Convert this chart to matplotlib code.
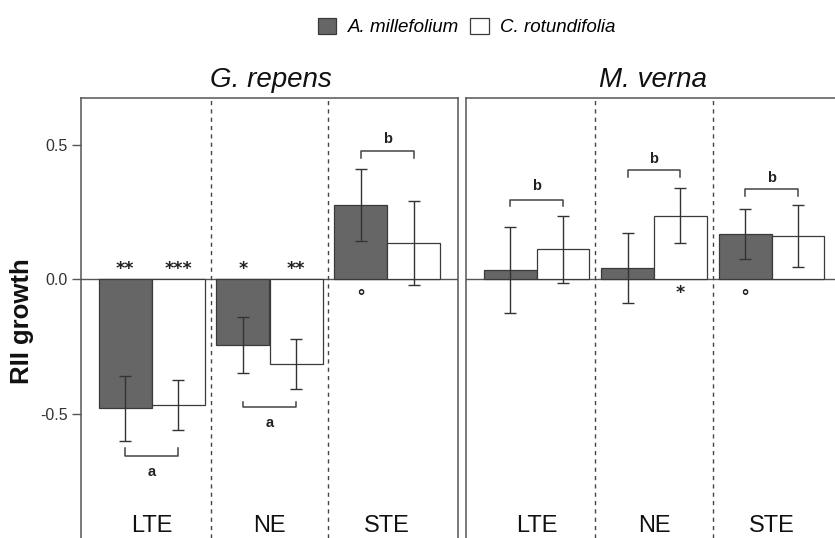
import matplotlib
matplotlib.use("Agg")
import matplotlib.pyplot as plt
from matplotlib.patches import Patch
import numpy as np

plt.rcParams['font.family'] = ['Liberation Sans', 'DejaVu Sans']

# ---------------- data ----------------
categories = ["LTE", "NE", "STE"]
species = ["A. millefolium", "C. rotundifolia"]
panels = ["G. repens", "M. verna"]

# G. repens
grep_mill = [-0.48, -0.245, 0.277]
grep_mill_err = [0.12, 0.103, 0.133]
grep_rot = [-0.467, -0.316, 0.134]
grep_rot_err = [0.094, 0.093, 0.157]

# M. verna
mver_mill = [0.034, 0.041, 0.170]
mver_mill_err = [0.160, 0.130, 0.093]
mver_rot = [0.111, 0.237, 0.160]
mver_rot_err = [0.124, 0.101, 0.115]

# significance marks per bar
grep_mill_sig = ["**", "*", "°"]
grep_rot_sig = ["***", "**", ""]
mver_mill_sig = ["", "", "°"]
mver_rot_sig = ["", "*", ""]

# group letters
grep_letters = ["a", "a", "b"]
mver_letters = ["b", "b", "b"]

# ---------------- layout ----------------
W, H = 835, 538
fig = plt.figure(figsize=(W / 100, H / 100), dpi=100)

ylo, yhi = -0.962, 0.675
top_frac = 1 - 97.7 / H
axL = fig.add_axes([81 / W, 0, 377 / W, top_frac])
axR = fig.add_axes([466 / W, 0, 376 / W, top_frac])

DARK = '#666666'
EDGE = '#3a3a3a'
FRAME = '#555555'
bw = 0.45
x = np.arange(1, len(categories) + 1)


def draw_panel(ax, mill, mill_err, rot, rot_err, msig, rsig, letters,
               bracket_y, tick_dir, letter_y):
    ax.set_xlim(0.4, 3.6)
    ax.set_ylim(ylo, yhi)
    for s in ['top', 'left', 'right']:
        ax.spines[s].set_color(FRAME)
        ax.spines[s].set_linewidth(1.1)
    ax.spines['bottom'].set_visible(False)
    ax.set_xticks([])
    ax.axhline(0, color=FRAME, lw=1.0, zorder=1)
    for d in [1.5, 2.5]:
        ax.axvline(d, color='#444444', lw=1.0, ls=(0, (3, 3)), zorder=1)
    xm = x - bw / 2
    xr = x + bw / 2
    ax.bar(xm, mill, bw, color=DARK, edgecolor=EDGE, lw=0.9, zorder=2)
    ax.bar(xr, rot, bw, color='white', edgecolor=EDGE, lw=0.9, zorder=2)
    ax.errorbar(xm, mill, yerr=mill_err, fmt='none', ecolor='#333333',
                elinewidth=1.0, capsize=4.5, capthick=1.0, zorder=3)
    ax.errorbar(xr, rot, yerr=rot_err, fmt='none', ecolor='#333333',
                elinewidth=1.0, capsize=4.5, capthick=1.0, zorder=3)
    # significance marks
    for xs, vals, sigs in [(xm, mill, msig), (xr, rot, rsig)]:
        for xi, v, s in zip(xs, vals, sigs):
            if not s:
                continue
            if s == "°":
                ax.text(xi, -0.067, s, ha='center', va='center',
                        fontsize=13, fontweight='bold', color='#222222')
            elif v < 0:
                ax.text(xi, 0.005, s, ha='center', va='bottom',
                        fontsize=12.5, fontweight='bold', color='#222222',
                        family='DejaVu Sans')
            else:
                ax.text(xi, -0.085, s, ha='center', va='bottom',
                        fontsize=12.5, fontweight='bold', color='#222222',
                        family='DejaVu Sans')
    # brackets with letters
    for i, (by, td, ly, lt) in enumerate(zip(bracket_y, tick_dir, letter_y, letters)):
        x0, x1 = xm[i], xr[i]
        ax.plot([x0, x0, x1, x1], [by + td, by, by, by + td],
                color='#444444', lw=1.1, zorder=3)
        ax.text((x0 + x1) / 2, ly, lt, ha='center', va='center',
                fontsize=10.5, fontweight='bold', color='#222222')
    for xi, c in zip(x, categories):
        ax.text(xi, -0.94, c, ha='center', va='baseline', fontsize=17,
                color='#111111')


draw_panel(axL, grep_mill, grep_mill_err, grep_rot, grep_rot_err,
           grep_mill_sig, grep_rot_sig, grep_letters,
           [-0.656, -0.476, 0.477], [0.028, 0.021, -0.027],
           [-0.715, -0.535, 0.52])
draw_panel(axR, mver_mill, mver_mill_err, mver_rot, mver_rot_err,
           mver_mill_sig, mver_rot_sig, mver_letters,
           [0.295, 0.406, 0.336], [-0.023, -0.027, -0.026],
           [0.347, 0.447, 0.375])

axL.set_yticks([-0.5, 0.0, 0.5])
axL.set_yticklabels(["-0.5", "0.0", "0.5"], fontsize=11.5, color='#333333')
axL.tick_params(axis='y', length=6.5, color=FRAME, width=1.0, pad=3)
axR.set_yticks([])

fig.text(271 / W, 1 - 86.7 / H, panels[0], ha='center', va='baseline',
         fontsize=20, fontstyle='italic', color='#111111')
fig.text(653 / W, 1 - 86.7 / H, panels[1], ha='center', va='baseline',
         fontsize=20, fontstyle='italic', color='#111111')

fig.text(22 / W, 1 - 321 / H, "RII growth", rotation=90, ha='center',
         va='center', fontsize=18.5, fontweight='bold', color='#111111')

handles = [Patch(facecolor=DARK, edgecolor=EDGE, lw=0.9),
           Patch(facecolor='white', edgecolor=EDGE, lw=0.9)]
fig.legend(handles, species, loc='center', ncol=2,
           bbox_to_anchor=(466.5 / W, 1 - 27 / H), frameon=False,
           prop={'style': 'italic', 'size': 13.5},
           handlelength=1.0, handleheight=1.0, handletextpad=0.6,
           columnspacing=0.6, borderpad=0)

fig.savefig("out.png", dpi=100)
